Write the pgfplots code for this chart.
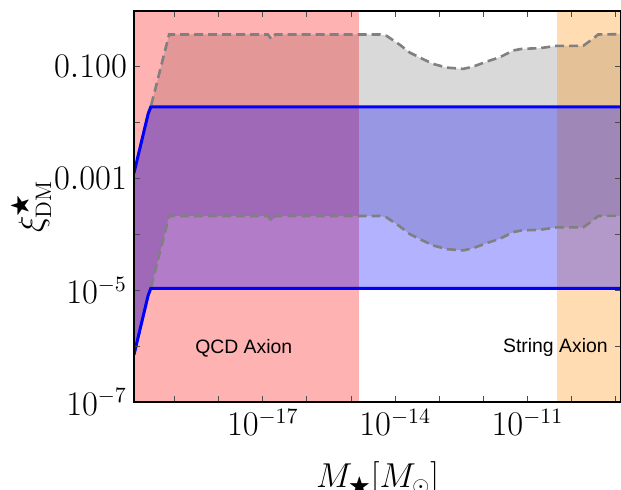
\documentclass[border=0pt]{standalone}
\usepackage{amssymb}
\usepackage{pgfplots}
\pgfplotsset{compat=1.18}
\usepgfplotslibrary{fillbetween}
\usepackage{fontspec}
\newfontfamily\sansfont{Liberation Sans}
\definecolor{spanorange}{RGB}{255,140,0}

% x, upper and lower edge of the grey band
\pgfplotstableread{
x        up      lo
1.2e-20  1.26e-3 7.08e-7
2.51e-20 1.44e-2 8.09e-6
2.88e-20 1.92e-2 1.08e-5
7.50e-20 0.380   2.14e-4
1.30e-17 0.380   2.14e-4
1.57e-17 0.313   1.76e-4
1.92e-17 0.380   2.14e-4
4.50e-15 0.380   2.14e-4
6.38e-15 0.360   2.02e-4
1.28e-14 0.248   1.39e-4
2.15e-14 0.180   1.01e-4
4.32e-14 0.137   7.70e-5
7.28e-14 0.113   6.35e-5
1.47e-13 0.0970  5.45e-5
3.48e-13 0.0920  5.17e-5
5.87e-13 0.101   5.68e-5
1.18e-12 0.124   6.97e-5
2.37e-12 0.149   8.37e-5
4.74e-12 0.196   1.10e-4
7.35e-12 0.210   1.18e-4
1.91e-11 0.216   1.21e-4
4.57e-11 0.238   1.34e-4
1.83e-10 0.238   1.34e-4
2.84e-10 0.305   1.71e-4
4.01e-10 0.380   2.14e-4
1.32e-9  0.385   2.16e-4
}\graydata

% blue band edges
\pgfplotstableread{
x        up      lo
1.2e-20  1.26e-3 7.08e-7
2.51e-20 1.44e-2 8.09e-6
2.88e-20 1.92e-2 1.08e-5
1.32e-9  1.92e-2 1.08e-5
}\bluedata

\begin{document}
\begin{tikzpicture}
\begin{axis}[
    name=ax,
    scale only axis,
    width=243.5pt, height=195.5pt,
    xmode=log, ymode=log,
    xmin=1.2e-20, xmax=1.32e-9,
    ymin=1e-7, ymax=1,
    xtick={1e-17,1e-14,1e-11},
    xticklabels={$10^{-17}$,$10^{-14}$,$10^{-11}$},
    minor xtick={1e-19,1e-18,1e-16,1e-15,1e-13,1e-12,1e-10,1e-9},
    ytick={1e-7,1e-5,1e-3,1e-1},
    yticklabels={$10^{-7}$,$10^{-5}$,$0.001$,$0.100$},
    minor ytick={1e-6,1e-4,1e-2},
    tick align=inside,
    major tick length=3pt, minor tick length=3pt,
    tick style={black!70, line width=0.5pt},
    axis line style={line width=1.2pt},
    ticklabel style={font=\fontsize{16}{16}\selectfont},
    label style={font=\fontsize{16}{16}\selectfont},
    xlabel={$M_{\bigstar}[M_{\odot}]$},
    ylabel={$\xi^{\bigstar}_{\mathrm{DM}}$},
    xlabel style={at={(axis description cs:0.5,-0.218)}, anchor=base},
    ylabel style={at={(axis description cs:-0.2115,0.5)}, anchor=center},
    axis on top,
]

% grey band (fill between sits below the rest)
\addplot[draw=none, name path=gu] table[x=x, y=up] {\graydata};
\addplot[draw=none, name path=gl] table[x=x, y=lo] {\graydata};
\addplot[gray, fill opacity=0.3, draw=none] fill between[of=gu and gl];

% QCD and string axion ranges
\addplot[draw=none, fill=red, fill opacity=0.3]
    coordinates {(1.2e-20,1e-7) (1.5e-15,1e-7) (1.5e-15,1) (1.2e-20,1)} -- cycle;
\addplot[draw=none, fill=spanorange, fill opacity=0.3]
    coordinates {(4.65e-11,1e-7) (1.32e-9,1e-7) (1.32e-9,1) (4.65e-11,1)} -- cycle;

% blue band
\addplot[draw=none, fill=blue, fill opacity=0.3]
    coordinates {(1.2e-20,1.26e-3) (2.51e-20,1.44e-2) (2.88e-20,1.92e-2) (1.32e-9,1.92e-2)
                 (1.32e-9,1.08e-5) (2.88e-20,1.08e-5) (2.51e-20,8.09e-6) (1.2e-20,7.08e-7)} -- cycle;

% dashed grey edges
\addplot[gray, line width=1.3pt, dash pattern=on 4.5pt off 2.5pt] table[x=x, y=up] {\graydata};
\addplot[gray, line width=1.3pt, dash pattern=on 4.5pt off 2.5pt] table[x=x, y=lo] {\graydata};

% blue edges
\addplot[blue, line width=1.5pt] table[x=x, y=up] {\bluedata};
\addplot[blue, line width=1.5pt] table[x=x, y=lo] {\bluedata};

\node[font=\sansfont\fontsize{9.7}{10}\selectfont] at (axis cs:3.7e-18,9.3e-7) {QCD Axion};
\node[font=\sansfont\fontsize{9.7}{10}\selectfont] at (axis cs:4.3e-11,9.3e-7) {String Axion};

\end{axis}
\pgfresetboundingbox
\path[use as bounding box] ([xshift=-67pt,yshift=-43.5pt]ax.south west) rectangle ([yshift=5.5pt]ax.north east);
\end{tikzpicture}
\end{document}
